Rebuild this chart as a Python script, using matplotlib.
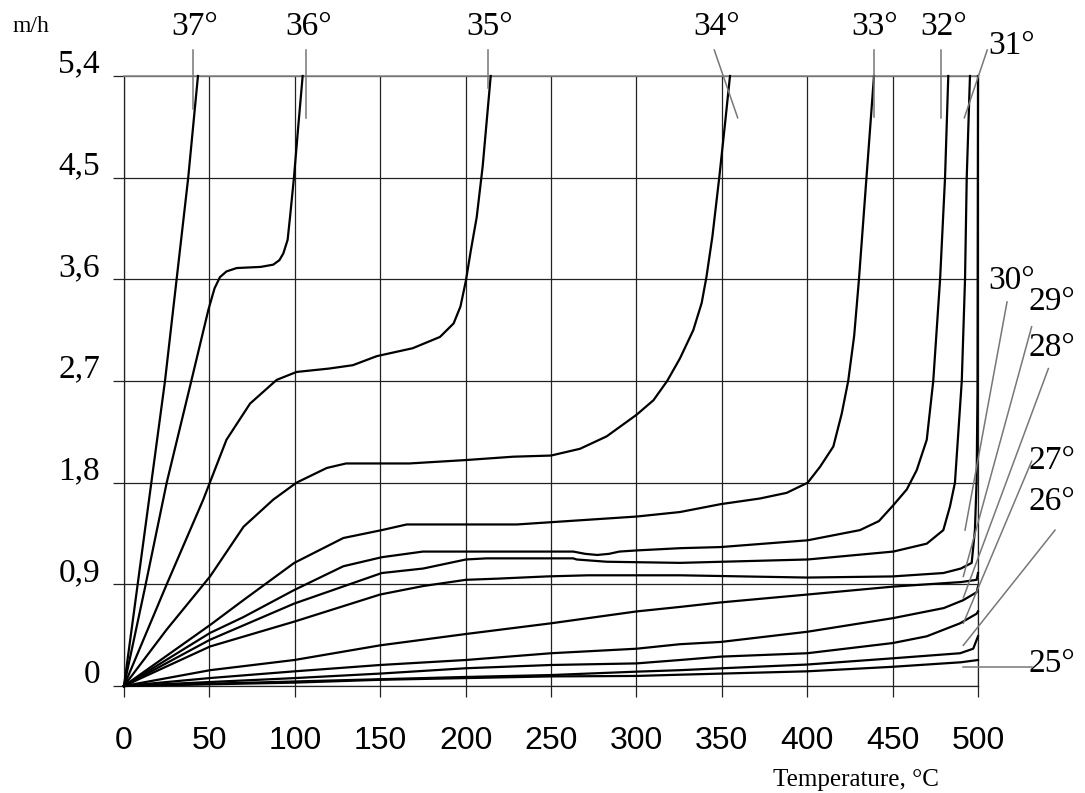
import matplotlib
matplotlib.use("Agg")
import matplotlib.pyplot as plt
import numpy as np

# curves: temperature (deg C) vs m/h, one per angle
c37_x = [0, 16, 24, 30.8, 37.6, 43.3]
c37_y = [0, 1.8, 2.7, 3.6, 4.5, 5.4]

c36_x = [0, 12, 25, 38.6, 49.4, 53, 56.2, 60, 66, 80, 87.4, 91, 93.3, 95.8, 97.2, 99.5, 102, 104.6]
c36_y = [0, 0.85, 1.8, 2.65, 3.33, 3.52, 3.62, 3.67, 3.70, 3.71, 3.73, 3.77, 3.83, 3.95, 4.15, 4.5, 4.95, 5.4]

c35_x = [0, 25, 46.4, 60, 73.8, 89.4, 101, 120, 134, 148, 169, 185, 193, 197, 200.2, 203, 206.5, 210, 214.7]
c35_y = [0, 0.9, 1.65, 2.18, 2.50, 2.71, 2.78, 2.81, 2.84, 2.92, 2.99, 3.09, 3.21, 3.36, 3.59, 3.85, 4.15, 4.6, 5.4]

c34_x = [0, 25, 50.4, 70, 87.4, 101, 118.7, 130, 167, 200, 228, 250, 267, 282.6, 300, 310, 318,
         325.5, 333.3, 338.2, 341, 344.5, 348.5, 351.9, 354.8]
c34_y = [0, 0.5, 0.97, 1.41, 1.65, 1.80, 1.93, 1.97, 1.97, 2.0, 2.03, 2.04, 2.10, 2.21, 2.40, 2.53, 2.70,
         2.90, 3.15, 3.39, 3.62, 3.98, 4.5, 4.98, 5.4]

c33_x = [0, 50.4, 69.9, 99.7, 128.4, 150.9, 165.5, 200, 230, 250, 300, 325.5, 349.4, 372.4, 388, 400.3,
         407.5, 415.3, 420.2, 424, 427.5, 430.3, 434.7, 439.1]
c33_y = [0, 0.54, 0.76, 1.09, 1.31, 1.38, 1.43, 1.43, 1.43, 1.45, 1.50, 1.54, 1.61, 1.66, 1.71, 1.80,
         1.94, 2.12, 2.41, 2.70, 3.1, 3.6, 4.5, 5.4]

c32_x = [0, 50.4, 69.9, 99.7, 128.4, 150.9, 175, 200, 250, 263, 270, 277, 284, 290, 300, 325.5, 349.4,
         400.3, 430.9, 442, 450.4, 458.3, 464.1, 470, 473.8, 477.8, 480.7, 482.6]
c32_y = [0, 0.47, 0.61, 0.85, 1.06, 1.14, 1.19, 1.19, 1.19, 1.19, 1.17, 1.16, 1.17, 1.19, 1.20, 1.22, 1.23,
         1.29, 1.38, 1.46, 1.60, 1.74, 1.91, 2.18, 2.70, 3.6, 4.5, 5.4]

c31_x = [0, 50.4, 99.7, 150.9, 175.2, 200.2, 212.3, 263, 265, 282.6, 325.5, 400.3, 450.4, 470, 479.7,
         483.6, 486.5, 490.5, 492.4, 493.4, 495.3]
c31_y = [0, 0.41, 0.73, 1.0, 1.04, 1.12, 1.13, 1.13, 1.12, 1.10, 1.09, 1.12, 1.19, 1.26, 1.38,
         1.59, 1.80, 2.70, 3.6, 4.5, 5.4]

c30_x = [0, 50.4, 99.7, 150, 175.2, 200.2, 218.2, 247.5, 271.8, 325.5, 400, 450, 479.7, 490, 496.3,
         498.2, 499.2, 499.7, 500]
c30_y = [0, 0.35, 0.57, 0.81, 0.885, 0.94, 0.95, 0.97, 0.98, 0.98, 0.96, 0.97, 1.0, 1.04, 1.09,
         1.38, 1.82, 2.6, 5.4]

c29_x = [0, 50.4, 99.7, 150, 200, 250, 300, 325.5, 349.4, 400.3, 450.4, 470, 490, 499.2, 500]
c29_y = [0, 0.14, 0.23, 0.36, 0.46, 0.555, 0.66, 0.70, 0.74, 0.81, 0.88, 0.90, 0.92, 0.94, 1.0]

c28_x = [0, 50, 100, 150, 200, 250, 300, 325.5, 349.4, 400, 450, 480, 491.4, 499.2, 500]
c28_y = [0, 0.07, 0.13, 0.186, 0.23, 0.29, 0.33, 0.37, 0.39, 0.48, 0.60, 0.69, 0.76, 0.83, 0.88]

c27_x = [0, 50, 100, 150, 200, 250, 300, 325.5, 349.4, 400, 450, 470, 489.5, 499.2, 500]
c27_y = [0, 0.035, 0.07, 0.11, 0.157, 0.186, 0.2, 0.23, 0.26, 0.29, 0.38, 0.44, 0.555, 0.64, 0.66]

c26_x = [0, 50, 100, 150, 200, 250, 300, 325.5, 350, 400, 450, 489.5, 497.2, 500]
c26_y = [0, 0.02, 0.04, 0.06, 0.08, 0.097, 0.127, 0.14, 0.157, 0.19, 0.245, 0.29, 0.33, 0.44]

c25_x = [0, 50, 100, 150, 200, 250, 300, 325.5, 400, 450, 490, 500]
c25_y = [0, 0.015, 0.03, 0.055, 0.07, 0.085, 0.089, 0.10, 0.13, 0.17, 0.21, 0.23]

curves = [(c37_x, c37_y), (c36_x, c36_y), (c35_x, c35_y), (c34_x, c34_y), (c33_x, c33_y),
          (c32_x, c32_y), (c31_x, c31_y), (c30_x, c30_y), (c29_x, c29_y), (c28_x, c28_y),
          (c27_x, c27_y), (c26_x, c26_y), (c25_x, c25_y)]

angle_labels = ["37°", "36°", "35°", "34°", "33°", "32°", "31°",
                "30°", "29°", "28°", "27°", "26°", "25°"]
# label anchor (x, y) in data units
label_x = [41.6, 107.9, 214.3, 347.0, 439.7, 479.7, 519.7, 519.7, 543.1, 543.1, 543.1, 543.1, 543.1]
label_y = [5.84, 5.84, 5.84, 5.84, 5.84, 5.84, 5.67, 3.59, 3.40, 2.99, 1.99, 1.63, 0.20]
# leader lines: start x, start y, end x, end y
lead_x0 = [40.2, 106.6, 212.9, 345.6, 439.1, 478.3, 505.4, 517.0, 531.4, 541.2, 531.4, 545.1, 531.4]
lead_y0 = [5.63, 5.63, 5.63, 5.63, 5.63, 5.63, 5.63, 3.40, 3.18, 2.81, 1.99, 1.38, 0.17]
lead_x1 = [40.2, 106.6, 212.9, 359.3, 439.1, 478.3, 492.0, 492.4, 491.4, 491.4, 491.4, 491.4, 491.4]
lead_y1 = [5.11, 5.03, 5.29, 5.03, 5.04, 5.03, 5.03, 1.38, 0.97, 0.78, 0.555, 0.36, 0.17]

x_ticks = [0, 50, 100, 150, 200, 250, 300, 350, 400, 450, 500]
y_ticks = [0, 0.9, 1.8, 2.7, 3.6, 4.5, 5.4]
y_tick_labels = ["0", "0,9", "1,8", "2,7", "3,6", "4,5", "5,4"]

serif = "Liberation Serif"
sans = "Liberation Sans"

fig = plt.figure(figsize=(10.85, 7.93), dpi=100)
ax = fig.add_axes([124 / 1085, 1 - 686 / 793, (978 - 124) / 1085, (686 - 76) / 793])
ax.set_xlim(0, 500)
ax.set_ylim(0, 5.4)

#grid
ax.set_xticks(x_ticks)
ax.set_yticks(y_ticks)
ax.set_yticklabels([])
ax.set_xticklabels([str(v) for v in x_ticks], fontsize=23, family=sans)
ax.tick_params(axis="both", direction="out", length=8, width=0.9, color="#222222")
ax.tick_params(axis="x", pad=21)
ax.grid(True, color="#222222", linewidth=0.9)
for side in ["left", "bottom", "right"]:
    ax.spines[side].set_color("#222222")
    ax.spines[side].set_linewidth(0.9)
ax.spines["top"].set_color("#888888")
ax.spines["top"].set_linewidth(1.2)

# y tick labels sit just above their gridline
for v, lbl in zip(y_ticks, y_tick_labels):
    ax.text(-14, v + 0.03, lbl, ha="right", va="baseline", fontsize=24, family=serif,
            clip_on=False)

for cx, cy in curves:
    ax.plot(cx, cy, color="black", linewidth=1.6, clip_on=False, zorder=3,
            solid_joinstyle="round")

for i in range(len(angle_labels)):
    ax.plot([lead_x0[i], lead_x1[i]], [lead_y0[i], lead_y1[i]], color="#777777",
            linewidth=1.1, clip_on=False, zorder=4)
    ax.text(label_x[i], label_y[i], angle_labels[i], ha="center", va="center",
            fontsize=24, family=serif, clip_on=False)

fig.text(31 / 1085, 1 - 27 / 793, "m/h", ha="center", va="center", fontsize=17, family=serif)
fig.text(856 / 1085, 1 - 780 / 793, "Temperature, °C", ha="center", va="center",
         fontsize=18, family=serif)

fig.savefig("out.png", dpi=100)
